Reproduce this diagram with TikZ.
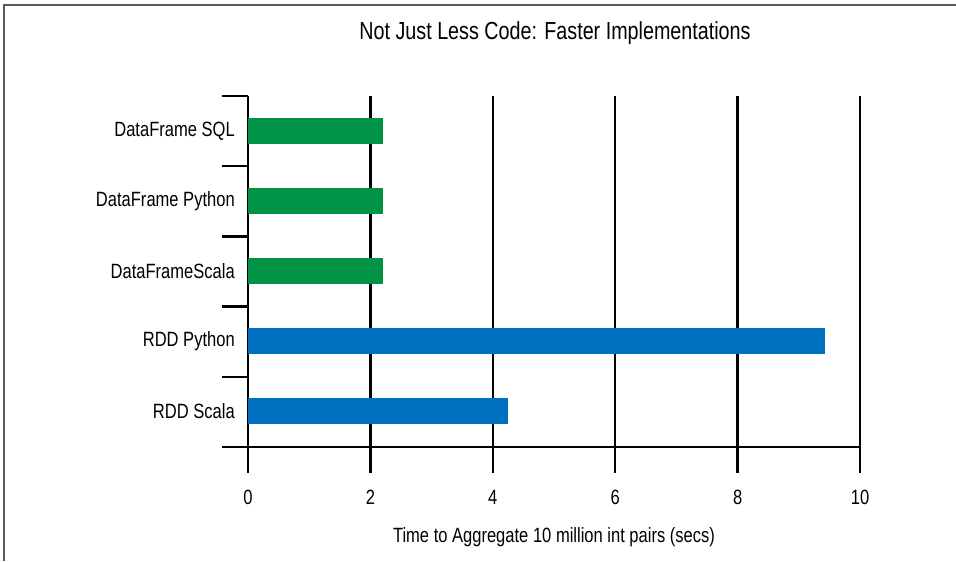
\documentclass[tikz,border=0pt]{standalone}
\usepackage{fontspec}
\setmainfont[FakeStretch=0.8]{Liberation Sans}
\usetikzlibrary{positioning}

\definecolor{dfgreen}{RGB}{0,146,69}
\definecolor{rddblue}{RGB}{0,112,192}

\begin{document}
\begin{tikzpicture}[
  x=0.75pt, y=-0.75pt,
  font=\fontsize{15.5}{18}\selectfont,
  grid/.style={line width=1.8pt, black},
  frame/.style={line width=1.4pt, gray!70!black},
  catlabel/.style={anchor=east, inner sep=0pt},
  ticklabel/.style={inner sep=0pt},
  dfbar/.style={fill=dfgreen, draw=none},
  rddbar/.style={fill=rddblue, draw=none}
]
\useasboundingbox (0,0) rectangle (956,561);

% FRAME
\draw[frame] (956,5) -- (4,5) -- (4,561);

% TITLE
\node[font=\fontsize{18.5}{22}\selectfont] (title) at (555,33) {Not Just Less Code: Faster Implementations};

% GRID AND TICKS
\foreach \v in {0,2,4,6,8,10} {
  \draw[grid] (248+61.2*\v,96) -- (248+61.2*\v,473);
  \node[ticklabel] (tick\v) at (248+61.2*\v,497) {\v};
}
\foreach \k in {0,...,5}
  \draw[grid] (222,96+70.2*\k) -- (248,96+70.2*\k);
\draw[grid] (222,447) -- (860,447);

% BARS
\fill[dfbar]  (248,118) rectangle (248+61.2*2.2,144);
\fill[dfbar]  (248,188) rectangle (248+61.2*2.2,214);
\fill[dfbar]  (248,258) rectangle (248+61.2*2.2,284);
\fill[rddbar] (248,328) rectangle (248+61.2*9.43,354);
\fill[rddbar] (248,398) rectangle (248+61.2*4.25,424);

% LABELS
\node[catlabel] (sql)    at (235,131) {DataFrame SQL};
\node[catlabel] (dfpy)   at (235,201) {DataFrame Python};
\node[catlabel] (dfsc)   at (235,271) {DataFrameScala};
\node[catlabel] (rddpy)  at (235,341) {RDD Python};
\node[catlabel] (rddsc)  at (235,411) {RDD Scala};

\node (xtitle) at (554,537) {Time to Aggregate 10 million int pairs (secs)};

\end{tikzpicture}
\end{document}
